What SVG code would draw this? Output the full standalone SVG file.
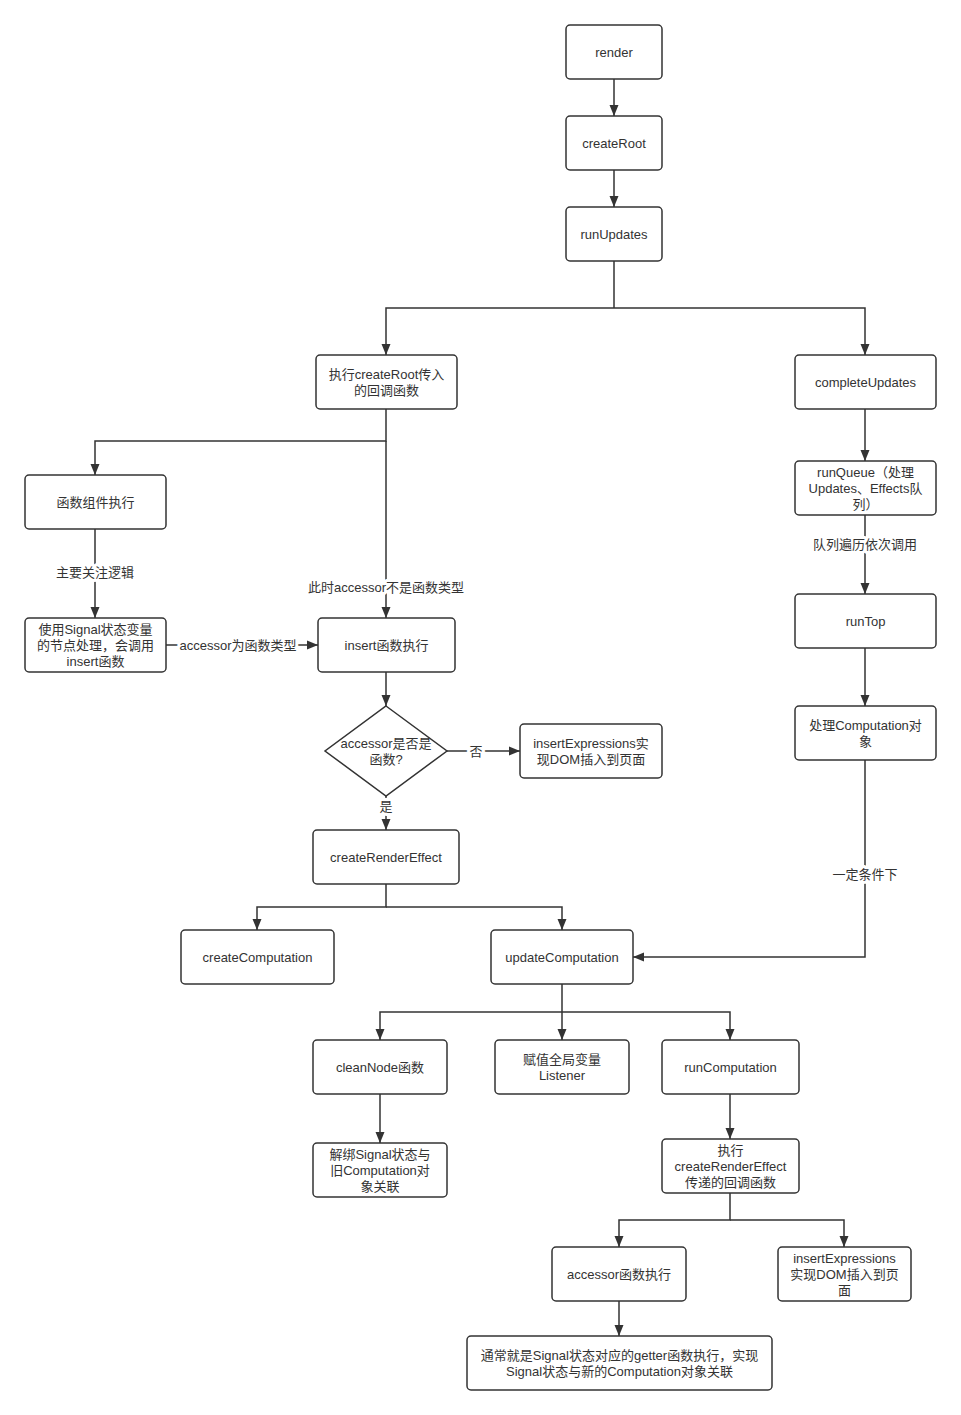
<svg xmlns="http://www.w3.org/2000/svg" width="961" height="1415" viewBox="0 0 961 1415">
<style>
.n rect,.n polygon{fill:#fff;stroke:#333;stroke-width:1.5}
text{font-family:"Liberation Sans","Noto Sans CJK SC",sans-serif;font-size:13px;fill:#333;text-anchor:middle}
.c path{fill:none;stroke:#333;stroke-width:1.5;marker-end:url(#a)}
.c path.nm{marker-end:none}
.lb{paint-order:stroke;stroke:#fff;stroke-width:6px;stroke-linejoin:round}
</style>
<defs>
<marker id="a" markerUnits="userSpaceOnUse" markerWidth="12" markerHeight="10" viewBox="0 0 12 10" refX="11" refY="5" orient="auto">
<path d="M0,0.5 L11,5 L0,9.5 z" fill="#333"/>
</marker>
</defs>
<rect width="961" height="1415" fill="#fff"/>
<g class="c" id="connectors">
<path d="M614,79 V116"/>
<path d="M614,170 V207"/>
<path class="nm" d="M614,261 V308"/>
<path d="M614,308 H386 V355"/>
<path d="M614,308 H865 V355"/>
<path d="M386,409 V441 H95 V475"/>
<path d="M386,441 V618"/>
<path d="M95,529 V618"/>
<path d="M166,645 H318"/>
<path d="M865,409 V461"/>
<path d="M865,515 V594"/>
<path d="M865,648 V706"/>
<path d="M865,760 V957 H633"/>
<path d="M386,672 V706"/>
<path d="M447,751 H520"/>
<path d="M386,796 V830"/>
<path d="M386,884 V907 H257 V930"/>
<path d="M386,907 H562 V930"/>
<path d="M562,984 V1040"/>
<path d="M562,1012 H380 V1040"/>
<path d="M562,1012 H730 V1040"/>
<path d="M380,1094 V1143"/>
<path d="M730,1094 V1139"/>
<path d="M730,1193 V1220 H619 V1247"/>
<path d="M730,1220 H844 V1247"/>
<path d="M619,1301 V1336"/>
<text class="lb" x="386" y="592">此时accessor不是函数类型</text>
<text class="lb" x="95" y="577">主要关注逻辑</text>
<text class="lb" x="238" y="650">accessor为函数类型</text>
<text class="lb" x="865" y="549">队列遍历依次调用</text>
<text class="lb" x="865" y="879">一定条件下</text>
<text class="lb" x="476" y="756">否</text>
<text class="lb" x="386" y="811">是</text>
</g>
<g class="n" id="render"><rect x="566" y="25" width="96" height="54" rx="4"/><text x="614" y="56.5">render</text></g>
<g class="n" id="createRoot"><rect x="566" y="116" width="96" height="54" rx="4"/><text x="614" y="147.5">createRoot</text></g>
<g class="n" id="runUpdates"><rect x="566" y="207" width="96" height="54" rx="4"/><text x="614" y="238.5">runUpdates</text></g>
<g class="n" id="execCreateRoot"><rect x="316" y="355" width="141" height="54" rx="4"/><text x="386.5" y="378.5">执行createRoot传入</text><text x="386.5" y="394.5">的回调函数</text></g>
<g class="n" id="completeUpdates"><rect x="795" y="355" width="141" height="54" rx="4"/><text x="865.5" y="386.5">completeUpdates</text></g>
<g class="n" id="funcComp"><rect x="25" y="475" width="141" height="54" rx="4"/><text x="95.5" y="506.5">函数组件执行</text></g>
<g class="n" id="runQueue"><rect x="795" y="461" width="141" height="54" rx="4"/><text x="865.5" y="476.5">runQueue（处理</text><text x="865.5" y="492.5">Updates、Effects队</text><text x="865.5" y="508.5">列）</text></g>
<g class="n" id="useSignal"><rect x="25" y="618" width="141" height="54" rx="4"/><text x="95.5" y="633.5">使用Signal状态变量</text><text x="95.5" y="649.5">的节点处理，会调用</text><text x="95.5" y="665.5">insert函数</text></g>
<g class="n" id="insert"><rect x="318" y="618" width="137" height="54" rx="4"/><text x="386.5" y="649.5">insert函数执行</text></g>
<g class="n" id="runTop"><rect x="795" y="594" width="141" height="54" rx="4"/><text x="865.5" y="625.5">runTop</text></g>
<g class="n" id="handleComp"><rect x="795" y="706" width="141" height="54" rx="4"/><text x="865.5" y="729.5">处理Computation对</text><text x="865.5" y="745.5">象</text></g>
<g class="n" id="decision"><polygon points="386,706 447,751 386,796 325,751"/><text x="386" y="747.5">accessor是否是</text><text x="386" y="763.5">函数?</text></g>
<g class="n" id="insertExpr1"><rect x="520" y="724" width="142" height="54" rx="4"/><text x="591" y="747.5">insertExpressions实</text><text x="591" y="763.5">现DOM插入到页面</text></g>
<g class="n" id="createRenderEffect"><rect x="313" y="830" width="146" height="54" rx="4"/><text x="386" y="861.5">createRenderEffect</text></g>
<g class="n" id="createComputation"><rect x="181" y="930" width="153" height="54" rx="4"/><text x="257.5" y="961.5">createComputation</text></g>
<g class="n" id="updateComputation"><rect x="491" y="930" width="142" height="54" rx="4"/><text x="562" y="961.5">updateComputation</text></g>
<g class="n" id="cleanNode"><rect x="313" y="1040" width="134" height="54" rx="4"/><text x="380" y="1071.5">cleanNode函数</text></g>
<g class="n" id="listener"><rect x="495" y="1040" width="134" height="54" rx="4"/><text x="562" y="1063.5">赋值全局变量</text><text x="562" y="1079.5">Listener</text></g>
<g class="n" id="runComputation"><rect x="662" y="1040" width="137" height="54" rx="4"/><text x="730.5" y="1071.5">runComputation</text></g>
<g class="n" id="unbind"><rect x="313" y="1143" width="134" height="54" rx="4"/><text x="380" y="1158.5">解绑Signal状态与</text><text x="380" y="1174.5">旧Computation对</text><text x="380" y="1190.5">象关联</text></g>
<g class="n" id="execCallback"><rect x="662" y="1139" width="137" height="54" rx="4"/><text x="730.5" y="1154.5">执行</text><text x="730.5" y="1170.5">createRenderEffect</text><text x="730.5" y="1186.5">传递的回调函数</text></g>
<g class="n" id="accessorExec"><rect x="552" y="1247" width="134" height="54" rx="4"/><text x="619" y="1278.5">accessor函数执行</text></g>
<g class="n" id="insertExpr2"><rect x="778" y="1247" width="133" height="54" rx="4"/><text x="844.5" y="1262.5">insertExpressions</text><text x="844.5" y="1278.5">实现DOM插入到页</text><text x="844.5" y="1294.5">面</text></g>
<g class="n" id="getter"><rect x="467" y="1336" width="305" height="54" rx="4"/><text x="619.5" y="1359.5">通常就是Signal状态对应的getter函数执行，实现</text><text x="619.5" y="1375.5">Signal状态与新的Computation对象关联</text></g>
</svg>
